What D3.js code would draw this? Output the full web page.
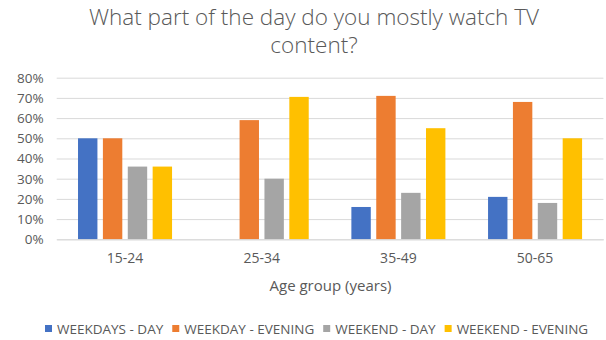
<!DOCTYPE html>
<html>
<head>
<meta charset="utf-8">
<script src="https://cdn.jsdelivr.net/npm/d3@7"></script>
<style>
  html, body { margin: 0; padding: 0; background: #fff; }
  svg { display: block; }
  text { font-family: "Open Sans", "Noto Sans", sans-serif; fill: #595959; }
</style>
</head>
<body>
<svg id="chart" width="606" height="340"></svg>
<script>
// Age groups along the x axis
const categories = ["15-24", "25-34", "35-49", "50-65"];

// Share of viewers per part of the day, by age group
const seriesNames = ["WEEKDAYS - DAY", "WEEKDAY - EVENING", "WEEKEND - DAY", "WEEKEND - EVENING"];
const weekdaysDay     = [0.50, 0.00, 0.16, 0.21];
const weekdayEvening  = [0.50, 0.59, 0.71, 0.68];
const weekendDay      = [0.36, 0.30, 0.23, 0.18];
const weekendEvening  = [0.36, 0.705, 0.55, 0.50];
const seriesValues = [weekdaysDay, weekdayEvening, weekendDay, weekendEvening];

// Y axis ticks
const yTicks = [0, 0.1, 0.2, 0.3, 0.4, 0.5, 0.6, 0.7, 0.8];

const colors = ["#4472C4", "#ED7D31", "#A5A5A5", "#FFC000"];

const svg = d3.select("#chart");

const plot = { left: 56.7, right: 603.4, top: 77.7, bottom: 239.3 };

const x0 = d3.scaleBand().domain(categories).range([plot.left, plot.right]).padding(0);
const bw0 = x0.bandwidth();
const x1 = d3.scaleBand().domain(seriesNames)
  .range([bw0 * 0.156, bw0 * 0.844]).paddingInner(0.22).paddingOuter(0);
const y = d3.scaleLinear().domain([0, 0.8]).range([plot.bottom, plot.top]);

// Title
const title = svg.append("text")
  .attr("x", 314).attr("text-anchor", "middle")
  .style("font-size", "22.5px").style("font-weight", 300);
title.append("tspan").attr("x", 314).attr("y", 25).text("What part of the day do you mostly watch TV");
title.append("tspan").attr("x", 314).attr("y", 53).text("content?");

// Gridlines and y labels
const yAxis = d3.axisLeft(y).tickValues(yTicks).tickFormat(d3.format(".0%"))
  .tickSize(-(plot.right - plot.left)).tickPadding(13);
const gy = svg.append("g").attr("transform", `translate(${plot.left},0)`).call(yAxis);
gy.select(".domain").remove();
gy.selectAll(".tick line").attr("stroke", "#D9D9D9").attr("stroke-width", 1);
gy.selectAll(".tick text").style("font-size", "13.5px").attr("fill", "#595959");

// Bars
const groups = svg.append("g").selectAll("g")
  .data(categories).join("g")
  .attr("transform", d => `translate(${x0(d)},0)`);

groups.selectAll("rect")
  .data((c, ci) => seriesNames.map((s, si) => ({ s, si, v: seriesValues[si][ci] })))
  .join("rect")
  .attr("x", d => x1(d.s))
  .attr("width", x1.bandwidth())
  .attr("y", d => y(d.v))
  .attr("height", d => y(0) - y(d.v))
  .attr("fill", d => colors[d.si]);

// X axis labels
const xAxis = d3.axisBottom(x0).tickSize(0).tickPadding(14);
const gx = svg.append("g").attr("transform", `translate(0,${plot.bottom})`).call(xAxis);
gx.select(".domain").attr("stroke", "#D9D9D9");
gx.selectAll(".tick text").style("font-size", "14px").attr("fill", "#595959");

// Axis title
svg.append("text").attr("x", 330.5).attr("y", 290.5).attr("text-anchor", "middle")
  .style("font-size", "15px").text("Age group (years)");

// Legend
const legend = svg.append("g").attr("transform", "translate(45,329)");
let lx = 0;
seriesNames.forEach((name, i) => {
  const item = legend.append("g").attr("transform", `translate(${lx},0)`);
  item.append("rect").attr("x", 0).attr("y", -4).attr("width", 7).attr("height", 7).attr("fill", colors[i]);
  const t = item.append("text").attr("x", 12).attr("y", 0).attr("dy", "0.35em")
    .style("font-size", "13.5px").text(name);
  lx += 12 + t.node().getComputedTextLength() + 9;
});
</script>
</body>
</html>
